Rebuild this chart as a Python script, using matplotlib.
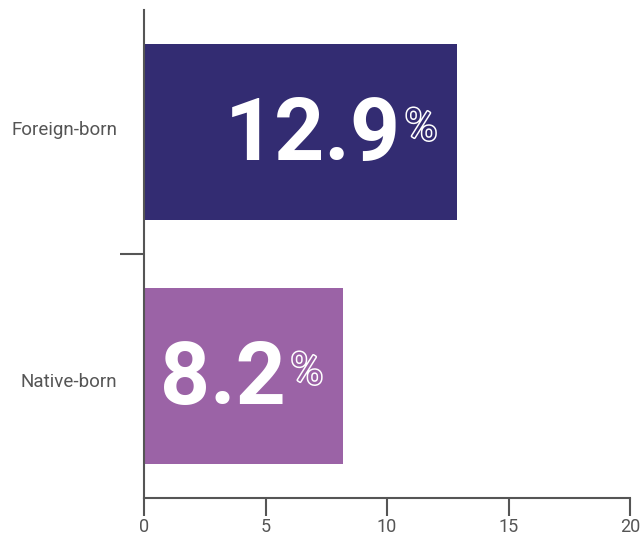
import matplotlib.pyplot as plt
import matplotlib.patheffects as pe
import matplotlib.transforms as mtransforms
from matplotlib.ticker import FixedLocator

# data (values in percent)
categories = ['Native-born', 'Foreign-born']
values = [8.2, 12.9]
colors = ['#9b63a6', '#332c72']
xticks = [0, 5, 10, 15, 20]

plt.rcParams['font.family'] = ['Roboto', 'DejaVu Sans']

fig = plt.figure(figsize=(6.41, 5.38), dpi=100)
ax = fig.add_axes([144 / 641, 40 / 538, 486 / 641, 488 / 538])

ypos = list(range(len(categories)))
ax.barh(ypos, values, height=0.72, color=colors)

ax.set_xlim(0, 20)
ax.set_ylim(-0.5, len(categories) - 0.5)

# axes styling
axis_color = '#555555'
for side in ['top', 'right']:
    ax.spines[side].set_visible(False)
for side in ['left', 'bottom']:
    ax.spines[side].set_color(axis_color)
    ax.spines[side].set_linewidth(1.5)

ax.set_xticks(xticks)
ax.set_xticklabels([str(t) for t in xticks])
ax.tick_params(axis='x', direction='out', length=13, width=1.5, color=axis_color,
               labelcolor=axis_color, labelsize=13, pad=1.5)

ax.set_yticks(ypos)
ax.set_yticklabels(categories)
ax.tick_params(axis='y', which='major', length=0, pad=19, labelcolor=axis_color, labelsize=13.5)
# nudge category labels slightly off the bar centres, as in the original
for lbl, dy in zip(ax.get_yticklabels(), [-3, 3]):
    shift = mtransforms.ScaledTranslation(0, dy / 72, fig.dpi_scale_trans)
    lbl.set_transform(lbl.get_transform() + shift)
ax.yaxis.set_minor_locator(FixedLocator([0.5]))
ax.tick_params(axis='y', which='minor', direction='out', length=17, width=1.5, color=axis_color)

# big value labels inside the bars
for y, v, c in zip(ypos, values, colors):
    ax.annotate(f'{v:.1f}', xy=(v, y), xytext=(-41, -3), textcoords='offset points',
                ha='right', va='center', color='white', fontsize=63, fontweight='bold')
    ax.annotate('%', xy=(v, y), xytext=(-38, 18), textcoords='offset points',
                ha='left', va='top', color=c, fontsize=32,
                path_effects=[pe.Stroke(linewidth=2.2, foreground='white'), pe.Normal()])

fig.savefig('out.png', dpi=100)
